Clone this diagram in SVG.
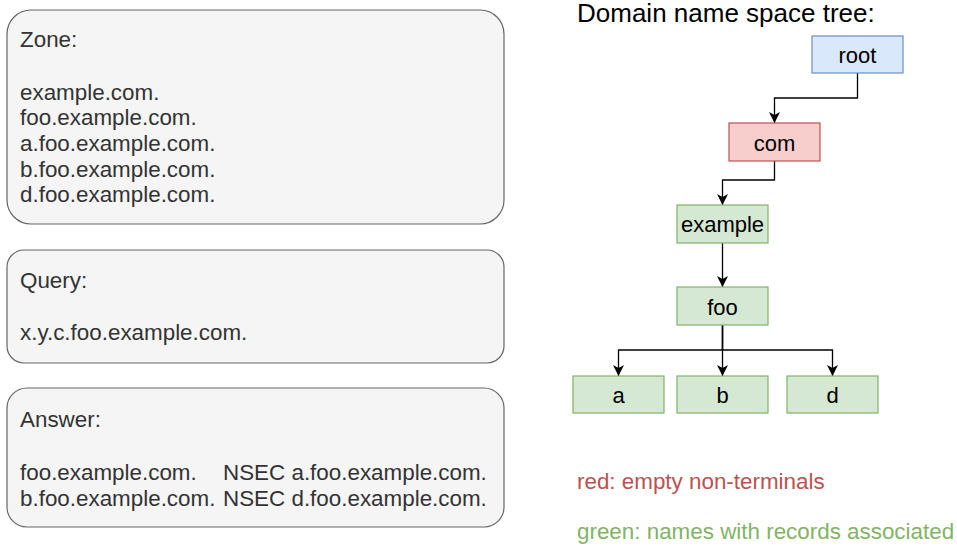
<svg xmlns="http://www.w3.org/2000/svg" width="957" height="547" viewBox="0 0 957 547">
  <style>
    .panel { fill: #f5f5f5; stroke: #666666; stroke-width: 1.2; }
    .panel-text { font-family: "Liberation Sans", Arial, sans-serif; font-size: 22.4px; fill: #333333; }
    .node rect { stroke-width: 1.2; }
    .node text { font-family: "Liberation Sans", Arial, sans-serif; font-size: 22px; fill: #000000; text-anchor: middle; }
    .blue { fill: #dae8fc; stroke: #6c8ebf; }
    .red { fill: #f8cecc; stroke: #b85450; }
    .green { fill: #d5e8d4; stroke: #82b366; }
    .edge { fill: none; stroke: #000000; stroke-width: 1.3; marker-end: url(#arrow); }
    .title { font-family: "Liberation Sans", Arial, sans-serif; font-size: 26px; fill: #000000; }
    .legend { font-family: "Liberation Sans", Arial, sans-serif; font-size: 22.4px; }
  </style>
  <defs>
    <marker id="arrow" viewBox="-12 -6 13 12" refX="0" refY="0" markerWidth="13" markerHeight="12" markerUnits="userSpaceOnUse" orient="auto">
      <path d="M0,0 L-11,-5.5 L-8,0 L-11,5.5 Z" fill="#000000"/>
    </marker>
  </defs>

  <rect width="957" height="547" fill="#ffffff"/>

  <!-- Left column: zone, query and answer panels -->
  <g id="zone">
    <rect class="panel" x="7" y="10" width="497" height="214" rx="24" ry="24"/>
    <text class="panel-text">
      <tspan x="20" y="47">Zone:</tspan>
      <tspan x="20" y="99.5">example.com.</tspan>
      <tspan x="20" y="125">foo.example.com.</tspan>
      <tspan x="20" y="151">a.foo.example.com.</tspan>
      <tspan x="20" y="176.5">b.foo.example.com.</tspan>
      <tspan x="20" y="202">d.foo.example.com.</tspan>
    </text>
  </g>

  <g id="query">
    <rect class="panel" x="7" y="250" width="497" height="113" rx="17" ry="17"/>
    <text class="panel-text">
      <tspan x="20" y="288">Query:</tspan>
      <tspan x="20" y="340">x.y.c.foo.example.com.</tspan>
    </text>
  </g>

  <g id="answer">
    <rect class="panel" x="7" y="388" width="497" height="139" rx="20" ry="20"/>
    <text class="panel-text">
      <tspan x="20" y="427">Answer:</tspan>
      <tspan x="20" y="479.5">foo.example.com.</tspan>
      <tspan x="20" y="505.5">b.foo.example.com.</tspan>
    </text>
    <text class="panel-text">
      <tspan x="223" y="479.5">NSEC a.foo.example.com.</tspan>
      <tspan x="223" y="505.5">NSEC d.foo.example.com.</tspan>
    </text>
  </g>

  <!-- Right column: domain name space tree -->
  <text id="tree-title" class="title" x="577" y="22">Domain name space tree:</text>

  <g id="connectors">
    <path class="edge" d="M857.5,73 V98 H774.5 V123"/>
    <path class="edge" d="M774.5,161 V180 H722.5 V205"/>
    <path class="edge" d="M722.5,243 V287"/>
    <path class="edge" d="M722.5,325 V350 H618.5 V376"/>
    <path class="edge" d="M722.5,325 V376"/>
    <path class="edge" d="M722.5,325 V350 H832.5 V376"/>
  </g>

  <g id="node-root" class="node">
    <rect class="blue" x="812" y="36" width="91" height="37"/>
    <text x="857.5" y="63">root</text>
  </g>
  <g id="node-com" class="node">
    <rect class="red" x="729" y="123" width="91" height="38"/>
    <text x="774.5" y="150.5">com</text>
  </g>
  <g id="node-example" class="node">
    <rect class="green" x="677" y="205" width="91" height="38"/>
    <text x="722.5" y="232">example</text>
  </g>
  <g id="node-foo" class="node">
    <rect class="green" x="677" y="287" width="91" height="38"/>
    <text x="722.5" y="314.5">foo</text>
  </g>
  <g id="node-a" class="node">
    <rect class="green" x="573" y="376" width="91" height="37"/>
    <text x="618.5" y="403">a</text>
  </g>
  <g id="node-b" class="node">
    <rect class="green" x="677" y="376" width="91" height="37"/>
    <text x="722.5" y="403">b</text>
  </g>
  <g id="node-d" class="node">
    <rect class="green" x="787" y="376" width="91" height="37"/>
    <text x="832.5" y="403">d</text>
  </g>

  <!-- Legend -->
  <text id="legend-red" class="legend" x="577" y="489" fill="#b85450">red: empty non-terminals</text>
  <text id="legend-green" class="legend" x="577" y="539" fill="#82b366">green: names with records associated</text>
</svg>
